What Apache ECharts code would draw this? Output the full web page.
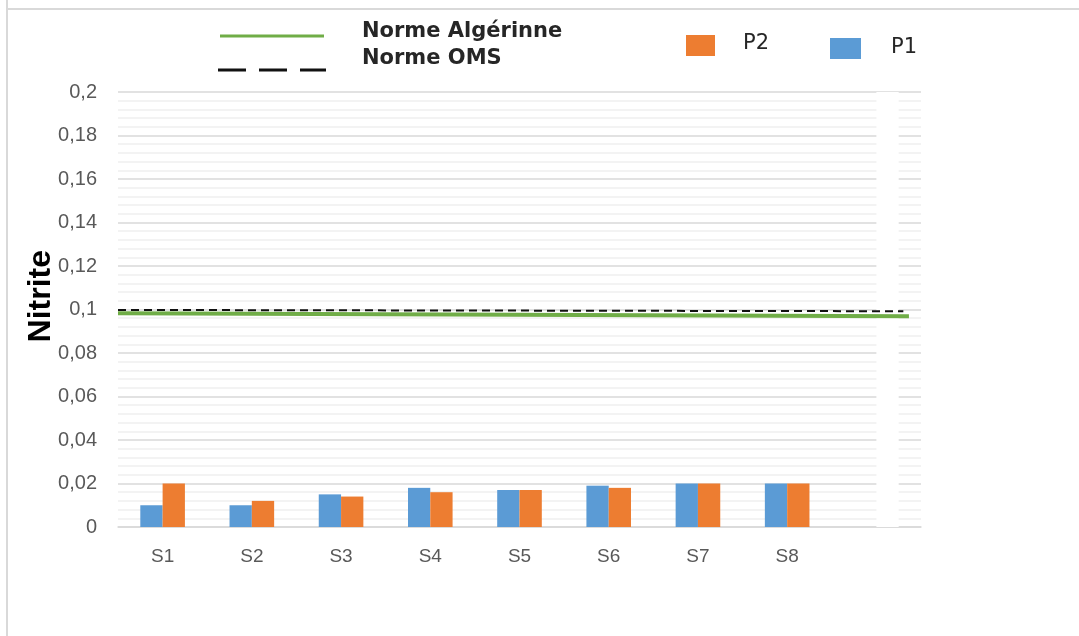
<!DOCTYPE html>
<html>
<head>
<meta charset="utf-8">
<script src="https://cdn.jsdelivr.net/npm/echarts@6/dist/echarts.min.js"></script>
<style>
html,body{margin:0;padding:0;background:#fff;}
#chart{width:1079px;height:636px;}
</style>
</head>
<body>
<div id="chart"></div>
<script>
// ---- data ----
var categories = ['S1','S2','S3','S4','S5','S6','S7','S8',''];
var p1Values = [0.010, 0.010, 0.015, 0.018, 0.017, 0.019, 0.020, 0.020, null];
var p2Values = [0.020, 0.012, 0.014, 0.016, 0.017, 0.018, 0.020, 0.020, 0.2];
var normX = [0, 0.978];
var omsNorm = [0.0998, 0.0992];
var algNormX = [0, 0.985];
var algNorm = [0.0983, 0.0969];
var yTicks = [0,0.02,0.04,0.06,0.08,0.1,0.12,0.14,0.16,0.18,0.2];

var chart = echarts.init(document.getElementById('chart'), null, {renderer:'canvas'});

var p2Data = p2Values.map(function(v, i){
  if (i === categories.length - 1) {
    return {value: v, itemStyle: {color: '#ffffff'}};
  }
  return v;
});

var option = {
  animation: false,
  backgroundColor: '#ffffff',
  grid: {left: 118, right: 158, top: 92, bottom: 109},
  xAxis: [{
    type: 'category',
    data: categories,
    axisLine: {show: true, lineStyle: {color: '#d9d9d9', width: 1.5}},
    axisTick: {show: false},
    axisLabel: {color: '#595959', fontSize: 19, fontFamily: 'Liberation Sans', margin: 20}
  }, {
    type: 'value', min: 0, max: 1, show: false
  }],
  yAxis: {
    type: 'value',
    min: 0, max: 0.2, interval: 0.02,
    axisLine: {show: false},
    axisTick: {show: false},
    axisLabel: {
      color: '#595959', fontSize: 20, fontFamily: 'Liberation Sans', margin: 21,
      formatter: function(v){ return String(Math.round(v*100)/100).replace('.', ','); }
    },
    splitLine: {show: true, lineStyle: {color: '#d9d9d9', width: 1.5}},
    minorTick: {show: false, splitNumber: 5},
    minorSplitLine: {show: true, lineStyle: {color: '#efefef', width: 1.5}}
  },
  series: [{
    name: 'P1', type: 'bar', xAxisIndex: 0,
    data: p1Values, barWidth: '25%', barGap: '0%',
    itemStyle: {color: '#5b9bd5'}
  }, {
    name: 'P2', type: 'bar', xAxisIndex: 0,
    data: p2Data, barWidth: '25%', barGap: '0%',
    itemStyle: {color: '#ed7d31'}
  }, {
    name: 'Norme Algérinne', type: 'line', xAxisIndex: 1,
    data: algNormX.map(function(x,i){ return [x, algNorm[i]]; }),
    symbol: 'none', z: 5,
    lineStyle: {color: '#70ad47', width: 4}
  }, {
    name: 'Norme OMS', type: 'line', xAxisIndex: 1,
    data: normX.map(function(x,i){ return [x, omsNorm[i]]; }),
    symbol: 'none', z: 6,
    lineStyle: {color: '#111111', width: 2, type: [8,5]}
  }],
  graphic: [
    {type: 'line', shape: {x1: 7, y1: 0, x2: 7, y2: 636}, style: {stroke: '#d9d9d9', lineWidth: 2}},
    {type: 'line', shape: {x1: 7, y1: 9, x2: 1079, y2: 9}, style: {stroke: '#d9d9d9', lineWidth: 2}},
    {type: 'text', left: 25, top: 250, rotation: Math.PI/2, originX: 0, originY: 0,
     style: {text: 'Nitrite', fill: '#000', font: 'bold 32px "Liberation Sans"', x: 0, y: 0}},
    {type: 'line', shape: {x1: 220, y1: 36, x2: 324, y2: 36}, style: {stroke: '#70ad47', lineWidth: 3}},
    {type: 'line', shape: {x1: 218, y1: 70, x2: 326, y2: 70}, style: {stroke: '#111', lineWidth: 3, lineDash: [28, 13]}},
    {type: 'text', left: 362, top: 21, style: {text: 'Norme Algérinne', fill: '#262626', font: 'bold 21px "DejaVu Sans"'}},
    {type: 'text', left: 362, top: 48, style: {text: 'Norme OMS', fill: '#262626', font: 'bold 21px "DejaVu Sans"'}},
    {type: 'rect', shape: {x: 686, y: 35, width: 29, height: 21}, style: {fill: '#ed7d31'}},
    {type: 'text', left: 743, top: 33, style: {text: 'P2', fill: '#262626', font: '21px "DejaVu Sans"'}},
    {type: 'rect', shape: {x: 830, y: 38, width: 31, height: 21}, style: {fill: '#5b9bd5'}},
    {type: 'text', left: 891, top: 37, style: {text: 'P1', fill: '#262626', font: '21px "DejaVu Sans"'}}
  ]
};
chart.setOption(option);
</script>
</body>
</html>
